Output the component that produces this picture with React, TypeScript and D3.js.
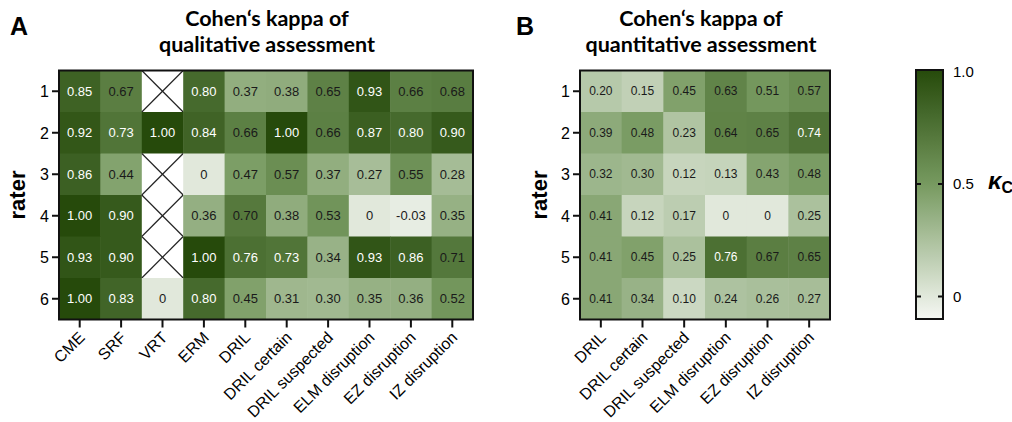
import React from "react";
import * as d3 from "d3";

const raters = ["1", "2", "3", "4", "5", "6"];
const qualCategories = ["CME", "SRF", "VRT", "ERM", "DRIL", "DRIL certain", "DRIL suspected", "ELM disruption", "EZ disruption", "IZ disruption"];
const qualValues: (number | null)[][] = [
  [0.85, 0.67, null, 0.80, 0.37, 0.38, 0.65, 0.93, 0.66, 0.68],
  [0.92, 0.73, 1.00, 0.84, 0.66, 1.00, 0.66, 0.87, 0.80, 0.90],
  [0.86, 0.44, null, 0, 0.47, 0.57, 0.37, 0.27, 0.55, 0.28],
  [1.00, 0.90, null, 0.36, 0.70, 0.38, 0.53, 0, -0.03, 0.35],
  [0.93, 0.90, null, 1.00, 0.76, 0.73, 0.34, 0.93, 0.86, 0.71],
  [1.00, 0.83, 0, 0.80, 0.45, 0.31, 0.30, 0.35, 0.36, 0.52],
];
const quantCategories = ["DRIL", "DRIL certain", "DRIL suspected", "ELM disruption", "EZ disruption", "IZ disruption"];
const quantValues: (number | null)[][] = [
  [0.20, 0.15, 0.45, 0.63, 0.51, 0.57],
  [0.39, 0.48, 0.23, 0.64, 0.65, 0.74],
  [0.32, 0.30, 0.12, 0.13, 0.43, 0.48],
  [0.41, 0.12, 0.17, 0, 0, 0.25],
  [0.41, 0.45, 0.25, 0.76, 0.67, 0.65],
  [0.41, 0.34, 0.10, 0.24, 0.26, 0.27],
];
const colorStops = [-0.1, 0.5, 1.0];
const colorRange = ["#f6f8f4", "#76995f", "#264a0b"];
const legendTicks = [0, 0.5, 1.0];

const color = d3.scaleLinear<string>().domain(colorStops).range(colorRange).interpolate(d3.interpolateRgb).clamp(true);
const fmt = (v: number) => (v === 0 ? "0" : v.toFixed(2));
const AX = "'Liberation Sans', Arial, sans-serif";
const TITLE = "Lato, 'Open Sans', sans-serif";

function Heatmap({ x0, x1, y0, y1, cats, values, fontSize, titleX, letterX, raterX, title2 }: any) {
  const x = d3.scaleBand().domain(cats).range([x0, x1]);
  const y = d3.scaleBand().domain(raters).range([y0, y1]);
  const bw = x.bandwidth();
  const bh = y.bandwidth();
  return (
    <g>
      <text x={letterX} y={35} fontFamily={AX} fontWeight="bold" fontSize={25}>{letterX < 100 ? "A" : "B"}</text>
      <text x={titleX} y={26} textAnchor="middle" fontFamily={TITLE} fontWeight="bold" fontSize={21.5}>Cohen‘s kappa of</text>
      <text x={titleX} y={52} textAnchor="middle" fontFamily={TITLE} fontWeight="bold" fontSize={21.5}>{title2}</text>
      <text transform={`translate(${raterX},${(y0 + y1) / 2}) rotate(-90)`} textAnchor="middle" fontFamily={AX} fontWeight="bold" fontSize={22}>rater</text>
      {values.map((row: (number | null)[], ri: number) =>
        row.map((v, ci) => {
          const cx = x(cats[ci])!;
          const cy = y(raters[ri])!;
          if (v === null) {
            return (
              <g key={`${ri}-${ci}`}>
                <rect x={cx} y={cy} width={bw} height={bh} fill="#ffffff" />
                <line x1={cx} y1={cy} x2={cx + bw} y2={cy + bh} stroke="#222" strokeWidth={1.2} />
                <line x1={cx + bw} y1={cy} x2={cx} y2={cy + bh} stroke="#222" strokeWidth={1.2} />
              </g>
            );
          }
          return (
            <g key={`${ri}-${ci}`}>
              <rect x={cx} y={cy} width={bw + 0.5} height={bh + 0.5} fill={color(v)} />
              <text x={cx + bw / 2} y={cy + bh / 2} dy="0.35em" textAnchor="middle" fontFamily={AX} fontSize={fontSize} fill={v > 0.72 ? "#ffffff" : "#1a1a1a"}>{fmt(v)}</text>
            </g>
          );
        })
      )}
      <rect x={x0} y={y0} width={x1 - x0} height={y1 - y0} fill="none" stroke="#111" strokeWidth={2} />
      {raters.map((r) => (
        <g key={r}>
          <line x1={x0 - 7} x2={x0} y1={y(r)! + bh / 2} y2={y(r)! + bh / 2} stroke="#111" strokeWidth={2} />
          <text x={x0 - 10} y={y(r)! + bh / 2} dy="0.36em" textAnchor="end" fontFamily={AX} fontSize={16}>{r}</text>
        </g>
      ))}
      {cats.map((c: string) => {
        const cx = x(c)! + bw / 2;
        return (
          <g key={c}>
            <line x1={cx} x2={cx} y1={y1} y2={y1 + 8} stroke="#111" strokeWidth={2} />
            <text transform={`translate(${cx + 6},${y1 + 19}) rotate(-45)`} textAnchor="end" fontFamily={AX} fontSize={16}>{c}</text>
          </g>
        );
      })}
    </g>
  );
}

function Legend() {
  const lx0 = 916, lx1 = 943, ly0 = 70, ly1 = 319;
  const s = d3.scaleLinear().domain([-0.1, 1.0]).range([ly1, 71.5]);
  const stops = d3.range(0, 21).map((i) => -0.1 + (1.1 * i) / 20);
  return (
    <g>
      <defs>
        <linearGradient id="kgrad" x1="0" y1="1" x2="0" y2="0">
          {stops.map((v, i) => (
            <stop key={i} offset={`${(i / 20) * 100}%`} stopColor={color(v)} />
          ))}
        </linearGradient>
      </defs>
      <rect x={lx0} y={ly0} width={lx1 - lx0} height={ly1 - ly0} fill="url(#kgrad)" stroke="#111" strokeWidth={2} />
      {legendTicks.map((t) => (
        <g key={t}>
          {t < 1 && <line x1={lx0} x2={lx0 + 5} y1={s(t)} y2={s(t)} stroke="#111" strokeWidth={2} />}
          {t < 1 && <line x1={lx1 - 5} x2={lx1} y1={s(t)} y2={s(t)} stroke="#111" strokeWidth={2} />}
          <text x={953} y={s(t)} dy="0.36em" fontFamily={AX} fontSize={15}>{t === 0 ? "0" : t.toFixed(1)}</text>
        </g>
      ))}
      <text x={988} y={189} fontFamily={AX} fontWeight="bold">
        <tspan fontSize={24} fontStyle="italic">κ</tspan>
        <tspan fontSize={16} dy={4}>C</tspan>
      </text>
    </g>
  );
}

export default function App() {
  return (
    <div style={{ position: "absolute", left: 0, top: 0 }}>
      <svg width={1012} height={422} style={{ display: "block", background: "#ffffff" }}>
        <Heatmap x0={59} x1={473} y0={70.5} y1={319.5} cats={qualCategories} values={qualValues} fontSize={13} titleX={267} letterX={10} raterX={25} title2="qualitative assessment" />
        <Heatmap x0={580} x1={830} y0={70.5} y1={319.5} cats={quantCategories} values={quantValues} fontSize={12} titleX={701} letterX={516} raterX={547} title2="quantitative assessment" />
        <Legend />
      </svg>
    </div>
  );
}
